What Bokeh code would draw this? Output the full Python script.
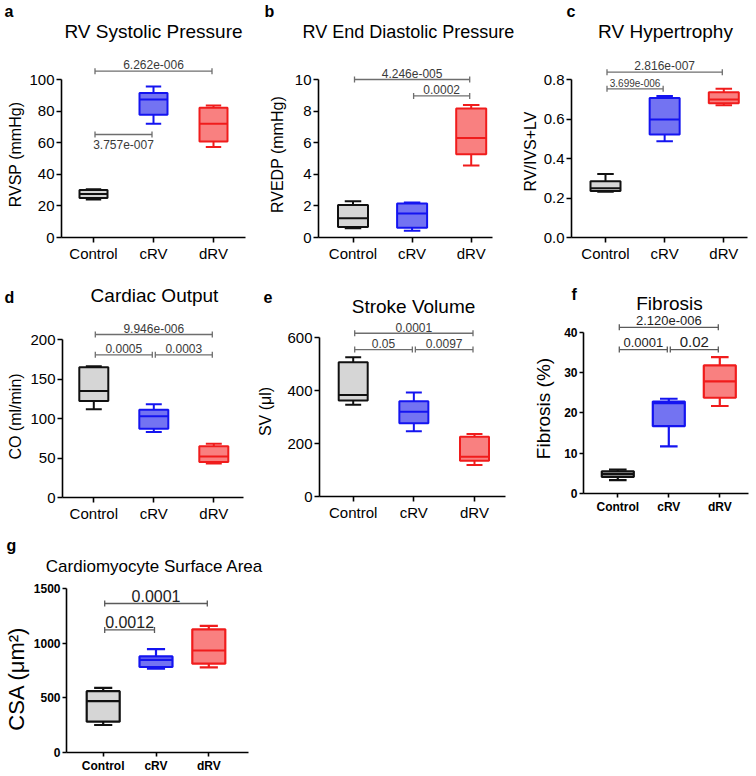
import math
from bokeh.plotting import figure
from bokeh.models import ColumnDataSource, FixedTicker, Label, Range1d, PrintfTickFormatter
from bokeh.layouts import row, column
from bokeh.core.properties import value
from bokeh.embed import file_html
from bokeh.resources import INLINE

categories = ["Control", "cRV", "dRV"]

# a  RV Systolic Pressure (mmHg)
rvsp_min = [24.0, 72.0, 57.3]
rvsp_q1 = [25.0, 77.7, 60.8]
rvsp_med = [27.5, 87.4, 72.0]
rvsp_q3 = [30.0, 91.4, 82.1]
rvsp_max = [30.6, 95.6, 83.6]
rvsp_ticks = [0, 20, 40, 60, 80, 100]
rvsp_brackets = [(0, 2, 105.3, "6.262e-006"), (0, 1, 65.2, "3.757e-007")]

# b  RV End Diastolic Pressure (mmHg)
rvedp_min = [0.59, 0.42, 4.55]
rvedp_q1 = [0.67, 0.61, 5.27]
rvedp_med = [1.22, 1.52, 6.30]
rvedp_q3 = [2.05, 2.15, 8.16]
rvedp_max = [2.30, 2.21, 8.39]
rvedp_ticks = [0, 2, 4, 6, 8, 10]
rvedp_brackets = [(0, 2, 10.0, "4.246e-005"), (1, 2, 8.96, "0.0002")]

# c  RV Hypertrophy (RV/IVS+LV)
rvh_min = [0.232, 0.487, 0.669]
rvh_q1 = [0.236, 0.522, 0.680]
rvh_med = [0.250, 0.598, 0.699]
rvh_q3 = [0.285, 0.706, 0.736]
rvh_max = [0.322, 0.716, 0.753]
rvh_ticks = [0.0, 0.2, 0.4, 0.6, 0.8]
rvh_brackets = [(0, 2, 0.837, "2.816e-007"), (0, 1, 0.753, "3.699e-006")]

# d  Cardiac Output (ml/min)
co_min = [111.6, 83.0, 43.0]
co_q1 = [122.0, 87.0, 45.0]
co_med = [134.7, 102.7, 51.8]
co_q3 = [165.0, 111.0, 64.8]
co_max = [166.0, 118.0, 68.0]
co_ticks = [0, 50, 100, 150, 200]
co_brackets = [(0, 2, 206.3, "9.946e-006"), (0, 1, 180.6, "0.0005"), (1, 2, 180.6, "0.0003")]

# e  Stroke Volume (ul)
sv_min = [346.6, 245.8, 118.5]
sv_q1 = [361.8, 276.0, 134.9]
sv_med = [383.0, 320.0, 150.0]
sv_q3 = [506.7, 359.0, 225.6]
sv_max = [525.6, 392.0, 235.7]
sv_ticks = [0, 200, 400, 600]
sv_brackets = [(0, 2, 616.0, "0.0001"), (0, 1, 554.6, "0.05"), (1, 2, 554.6, "0.0097")]

# f  Fibrosis (%)
fib_min = [3.3, 11.7, 21.7]
fib_q1 = [4.1, 16.7, 23.75]
fib_med = [4.8, 22.4, 27.8]
fib_q3 = [5.5, 22.8, 31.75]
fib_max = [5.9, 23.5, 33.8]
fib_ticks = [0, 10, 20, 30, 40]
fib_brackets = [(0, 2, 41.2, "2.120e-006"), (0, 1, 35.7, "0.0001"), (1, 2, 35.7, "0.02")]

# g  Cardiomyocyte Surface Area (um^2)
csa_min = [251.5, 766.7, 778.8]
csa_q1 = [281.8, 781.8, 812.0]
csa_med = [469.7, 848.0, 933.0]
csa_q3 = [560.6, 878.8, 1127.0]
csa_max = [591.0, 945.0, 1157.6]
csa_ticks = [0, 500, 1000, 1500]
csa_brackets = [(0, 2, 1363.0, "0.0001"), (0, 1, 1121.0, "0.0012")]

FONT = "Liberation Sans"
FILLS = ["#d6d6d6", "#7373f2", "#f98080"]
LINES = ["#111111", "#1414f0", "#f01c1c"]
LETTER_SIZE = 16


def px(s):
    return float(s.replace("px", ""))


def make_panel(stats, yticks, brackets, bsizes, fig, frame, cats_px, top_px,
               letter, title, ylabel, bold_ticks=False, tick_size="15px",
               box_px=29, fmt=None, pcolor="#3a3a3a", bcolor="#6e6e6e",
               lw=2.0, tick_out=5, below_idx=()):
    lo, q1, med, q3, hi = stats
    X0, T0, W, H = fig
    L, R, B = frame
    c0, c2 = cats_px
    ux = (c2 - c0) / 2.0
    xs = -(c0 - X0) / ux
    xe = xs + W / ux
    top_val = yticks[-1]
    k = (B - top_px) / top_val
    ys = -(T0 + H - B) / k
    ye = (B - T0) / k

    p = figure(width=W, height=H, x_range=Range1d(xs, xe), y_range=Range1d(ys, ye),
               output_backend="svg", toolbar_location=None, tools="", title=None,
               min_border=0, min_border_left=0, min_border_right=0,
               min_border_top=0, min_border_bottom=0)
    p.outline_line_color = None
    p.xgrid.visible = False
    p.ygrid.visible = False
    p.background_fill_color = "white"
    p.border_fill_color = "white"

    def dx(x):
        return xs + (x - X0) / ux

    def dy(y):
        return (B - y) / k

    xa = p.xaxis[0]
    ya = p.yaxis[0]
    xa.ticker = FixedTicker(ticks=[0, 1, 2])
    xa.major_label_overrides = {i: c for i, c in enumerate(categories)}
    xa.fixed_location = 0
    xa.bounds = (dx(L), dx(R))
    ya.ticker = FixedTicker(ticks=yticks)
    ya.fixed_location = dx(L)
    ya.bounds = (0, top_val)
    if fmt:
        ya.formatter = PrintfTickFormatter(format=fmt)
    for ax in (xa, ya):
        ax.axis_line_color = "black"
        ax.axis_line_width = 1.6
        ax.major_tick_line_color = "black"
        ax.major_tick_line_width = 1.6
        ax.major_tick_in = 0
        ax.major_tick_out = tick_out
        ax.minor_tick_line_color = None
        ax.major_label_text_font = FONT
        ax.major_label_text_font_size = tick_size
        ax.major_label_text_font_style = "bold" if bold_ticks else "normal"
        ax.major_label_text_color = "black"
        ax.major_label_standoff = 2

    bw = box_px / ux
    cw = 0.55 * box_px / ux
    xsrc = [0, 1, 2]
    src = ColumnDataSource(dict(
        x=xsrc, lo=lo, q1=q1, med=med, q3=q3, hi=hi,
        fill=FILLS, line=LINES,
        bl=[x - bw / 2 for x in xsrc], br=[x + bw / 2 for x in xsrc],
        cl=[x - cw / 2 for x in xsrc], cr=[x + cw / 2 for x in xsrc]))
    p.segment("x", "q3", "x", "hi", line_color="line", line_width=lw, source=src)
    p.segment("x", "q1", "x", "lo", line_color="line", line_width=lw, source=src)
    p.segment("cl", "hi", "cr", "hi", line_color="line", line_width=lw, source=src)
    p.segment("cl", "lo", "cr", "lo", line_color="line", line_width=lw, source=src)
    p.vbar(x="x", width=bw, bottom="q1", top="q3", fill_color="fill",
           line_color="line", line_width=lw, source=src)
    p.segment("bl", "med", "br", "med", line_color="line", line_width=lw, source=src)

    # significance brackets
    sx0, sy0, sx1, sy1 = [], [], [], []
    g = 1.5 / ux
    t = 3.0 / k
    for n, (i, j, yv, txt) in enumerate(brackets):
        a0, a1 = i + g, j - g
        sx0 += [a0, a0, a1]
        sx1 += [a1, a0, a1]
        sy0 += [yv, yv - t, yv - t]
        sy1 += [yv, yv + t, yv + t]
        fs = px(bsizes[n])
        if n in below_idx:
            ty = yv - (4.0 + 0.5 * fs) / k
        else:
            ty = yv + (2.0 + 0.35 * fs) / k
        p.text(x=[(i + j) / 2.0], y=[ty], text=[txt],
               text_font=value(FONT), text_font_size=value(bsizes[n]),
               text_align="center", text_baseline="middle", text_color=pcolor)
    p.segment(x0=sx0, y0=sy0, x1=sx1, y1=sy1, line_color=bcolor, line_width=1.3)

    lt, lx, ly = letter
    mid = max(ly - 0.35 * LETTER_SIZE, T0 + 11)
    p.add_layout(Label(x=dx(lx), y=dy(mid), text=lt, text_font=FONT,
                       text_font_style="bold", text_font_size=f"{LETTER_SIZE}px",
                       text_align="left", text_baseline="middle", text_color="black"))
    tt, tx, tyy, ts = title
    p.add_layout(Label(x=dx(tx), y=dy(tyy - 0.35 * px(ts)), text=tt, text_font=FONT,
                       text_font_size=ts, text_align="center",
                       text_baseline="middle", text_color="black"))
    yl, yx, yy, ysz = ylabel
    p.add_layout(Label(x=dx(yx), y=dy(yy), text=yl, text_font=FONT,
                       text_font_size=ysz, text_align="center", text_baseline="middle",
                       angle=math.pi / 2, text_color="black"))
    return p


pa = make_panel([rvsp_min, rvsp_q1, rvsp_med, rvsp_q3, rvsp_max], rvsp_ticks, rvsp_brackets,
                ["12px", "12px"], (0, 0, 255, 262), (61, 245, 237), (93, 213), 79,
                ("a", 4, 13), ("RV Systolic Pressure", 153, 38, "19px"),
                ("RVSP (mmHg)", 15, 154, "16px"), box_px=28, below_idx=(1,))

pb = make_panel([rvedp_min, rvedp_q1, rvedp_med, rvedp_q3, rvedp_max], rvedp_ticks, rvedp_brackets,
                ["12px", "12px"], (255, 0, 265, 262), (318, 492, 237), (352.5, 470.7), 79,
                ("b", 264, 13), ("RV End Diastolic Pressure", 408, 38, "18px"),
                ("RVEDP (mmHg)", 277, 154, "16px"), box_px=30)

pc = make_panel([rvh_min, rvh_q1, rvh_med, rvh_q3, rvh_max], rvh_ticks, rvh_brackets,
                ["12px", "10px"], (520, 0, 232, 262), (571, 747, 237), (605, 723.3), 79,
                ("c", 566, 12), ("RV Hypertrophy", 665, 38, "19px"),
                ("RV/IVS+LV", 530, 151, "16px"), box_px=30, fmt="%.1f")

pd_ = make_panel([co_min, co_q1, co_med, co_q3, co_max], co_ticks, co_brackets,
                 ["12px", "12px", "12px"], (0, 262, 255, 260), (62, 243, 497), (93.3, 213.3), 339,
                 ("d", 4, 303), ("Cardiac Output", 154, 302, "19px"),
                 ("CO (ml/min)", 15, 416, "16px"), box_px=29)

pe = make_panel([sv_min, sv_q1, sv_med, sv_q3, sv_max], sv_ticks, sv_brackets,
                ["12px", "12px", "12px"], (255, 262, 265, 260), (319, 505, 496), (352.7, 474), 337,
                ("e", 263, 302), ("Stroke Volume", 413, 313, "19px"),
                ("SV (μl)", 265, 411, "16px"), box_px=29)

pf = make_panel([fib_min, fib_q1, fib_med, fib_q3, fib_max], fib_ticks, fib_brackets,
                ["13px", "13px", "15px"], (520, 262, 232, 260), (583, 748, 493), (617.3, 719.3), 331.7,
                ("f", 571, 300), ("Fibrosis", 669, 310, "19px"),
                ("Fibrosis (%)", 543, 408, "19px"), bold_ticks=True, tick_size="12px",
                box_px=32, pcolor="#222222", bcolor="#5a5a5a", lw=2.2, tick_out=4)

pg = make_panel([csa_min, csa_q1, csa_med, csa_q3, csa_max], csa_ticks, csa_brackets,
                ["16px", "16px"], (0, 522, 290, 252), (66, 248, 752), (102.7, 208.3), 588,
                ("g", 6, 551), ("Cardiomyocyte Surface Area", 154, 572, "17px"),
                ("CSA (μm²)", 16, 678, "22px"), bold_ticks=True, tick_size="12px",
                box_px=33, pcolor="#222222", bcolor="#5a5a5a", lw=2.2, tick_out=4)

layout = column(row(pa, pb, pc), row(pd_, pe, pf), row(pg))

with open("out.html", "w") as f:
    f.write(file_html(layout, INLINE))
